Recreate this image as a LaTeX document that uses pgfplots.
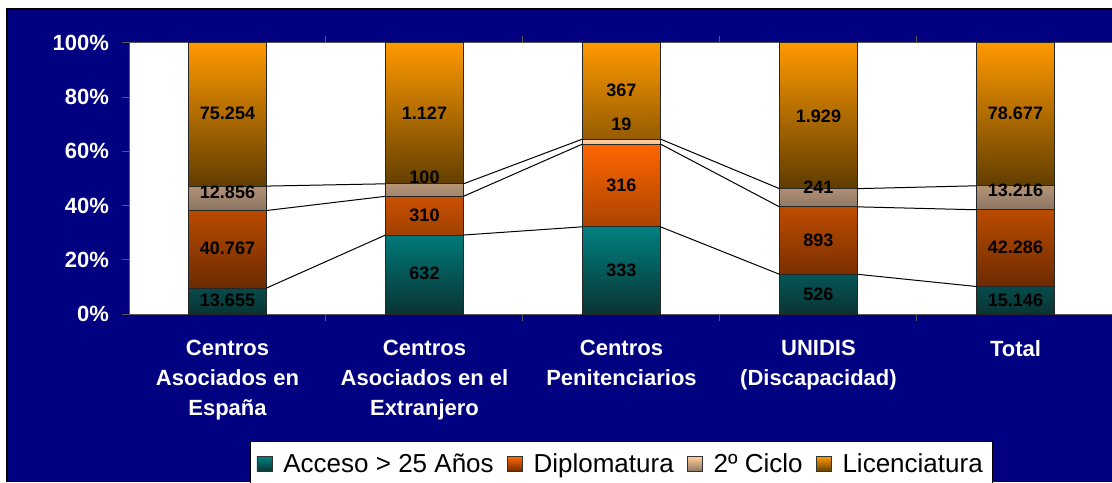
\documentclass[border=0pt]{standalone}
\usepackage{fontspec}
\setmainfont{Liberation Sans}
\usepackage{pgfplots}
\usepackage{pgfplotstable}
\pgfplotsset{compat=1.18}
\definecolor{navy}{HTML}{000080}
\definecolor{accTop}{HTML}{008080}
\definecolor{accBot}{HTML}{0A3333}
\definecolor{dipTop}{HTML}{FF6600}
\definecolor{dipBot}{HTML}{6B2A00}
\definecolor{cicTop}{HTML}{FFCC99}
\definecolor{cicBot}{HTML}{8A7462}
\definecolor{licTop}{HTML}{FF9900}
\definecolor{licBot}{HTML}{5E3C00}

% percentage shares of each category (from the counts shown on the bars)
\pgfplotstableread{
x acc dip cic lic
0 9.580 28.602 9.020 52.798
1 29.138 14.292 4.610 51.960
2 32.174 30.531 1.836 35.459
3 14.656 24.882 6.715 53.747
4 10.143 28.318 8.850 52.689
}\pct

% label positions and texts
\pgfplotstableread{
x y lab
0 5.2 13.655
0 24.4 40.767
0 45.0 12.856
0 74.2 75.254
1 15.1 632
1 36.5 310
1 50.6 100
1 74.2 1.127
2 16.2 333
2 47.6 316
2 70.1 19
2 82.7 367
3 7.4 526
3 27.3 893
3 46.9 241
3 73.1 1.929
4 5.2 15.146
4 24.7 42.286
4 45.8 13.216
4 74.2 78.677
}\labs

\begin{document}
\begin{tikzpicture}
\fill[white] (0,0) rectangle (556pt,241pt);
\fill[navy] (3.5pt,0) rectangle (556pt,236.5pt);
\draw[black, line width=0.6pt] (3.5pt,0) -- (3.5pt,236.5pt) -- (556pt,236.5pt);

\begin{axis}[
  at={(64.5pt,84pt)}, anchor=south west,
  width=491.5pt, height=135.5pt, scale only axis,
  ybar stacked, bar width=39pt,
  xmin=-0.5, xmax=4.49, ymin=0, ymax=100,
  axis background/.style={fill=white},
  axis line style={draw=gray!70!black, line width=0.5pt},
  tick align=outside,
  major tick length=3.5pt,
  tick style={draw=gray!70!black, line width=0.5pt},
  ytick={0,20,40,60,80,100},
  yticklabel={\pgfmathprintnumber[assume math mode=true]{\tick}\%},
  yticklabel style={font=\bfseries\fontsize{11}{13}\selectfont, text=white, xshift=-3pt},
  xtick={0.5,1.5,2.5,3.5},
  xticklabels={},
  extra x ticks={0,1,2,3,4},
  extra x tick labels={{Centros\\Asociados en\\España},{Centros\\Asociados en el\\Extranjero},{Centros\\Penitenciarios},{UNIDIS\\(Discapacidad)},{Total}},
  extra x tick style={major tick length=0pt, xticklabel style={align=center, font=\bfseries\fontsize{11}{15}\selectfont, text=white, yshift=-9.5pt}},
  every axis plot post/.append style={legend image code/.code={\draw[#1, draw=black!80, line width=0.4pt] (0pt,-3.75pt) rectangle (7.5pt,3.75pt); \path (11pt,0pt);}},
  legend columns=4,
  legend style={at={(0.1231,-0.468)}, anchor=north west, draw=black, fill=white, line width=0.5pt,
    font=\fontsize{13}{15}\selectfont, inner xsep=3pt, inner ysep=4pt,
    /tikz/every even column/.append style={column sep=4.5pt}},
  legend cell align=left,
]
\addplot[top color=accTop, bottom color=accBot, draw=black!85, line width=0.5pt] table[x=x,y=acc] {\pct};
\addplot[top color=dipTop, bottom color=dipBot, draw=black!85, line width=0.5pt] table[x=x,y=dip] {\pct};
\addplot[top color=cicTop, bottom color=cicBot, draw=black!85, line width=0.5pt] table[x=x,y=cic] {\pct};
\addplot[top color=licTop, bottom color=licBot, draw=black!85, line width=0.5pt] table[x=x,y=lic] {\pct};
\legend{Acceso > 25 Años, Diplomatura, 2º Ciclo, Licenciatura}
\end{axis}

\begin{axis}[
  at={(64.5pt,84pt)}, anchor=south west,
  width=491.5pt, height=135.5pt, scale only axis,
  xmin=-0.5, xmax=4.49, ymin=0, ymax=100,
  hide axis, clip=false,
]
\addplot[black, line width=0.5pt, unbounded coords=jump] coordinates {
(0.198,9.580) (0.802,29.138) (1,nan) (1.198,29.138) (1.802,32.174) (2,nan)
(2.198,32.174) (2.802,14.656) (3,nan) (3.198,14.656) (3.802,10.143)};
\addplot[black, line width=0.5pt, unbounded coords=jump] coordinates {
(0.198,38.182) (0.802,43.430) (1,nan) (1.198,43.430) (1.802,62.705) (2,nan)
(2.198,62.705) (2.802,39.538) (3,nan) (3.198,39.538) (3.802,38.461)};
\addplot[black, line width=0.5pt, unbounded coords=jump] coordinates {
(0.198,47.202) (0.802,48.040) (1,nan) (1.198,48.040) (1.802,64.541) (2,nan)
(2.198,64.541) (2.802,46.253) (3,nan) (3.198,46.253) (3.802,47.311)};
\addplot[draw=none, mark=none, point meta=explicit symbolic,
  nodes near coords={\pgfplotspointmeta},
  every node near coord/.append style={anchor=center, inner sep=0pt, text=black, font=\bfseries\fontsize{9}{10}\selectfont}]
  table[x=x, y=y, meta=lab] {\labs};
\end{axis}
\pgfresetboundingbox
\useasboundingbox (0,0) rectangle (556pt,241pt);
\end{tikzpicture}
\end{document}
